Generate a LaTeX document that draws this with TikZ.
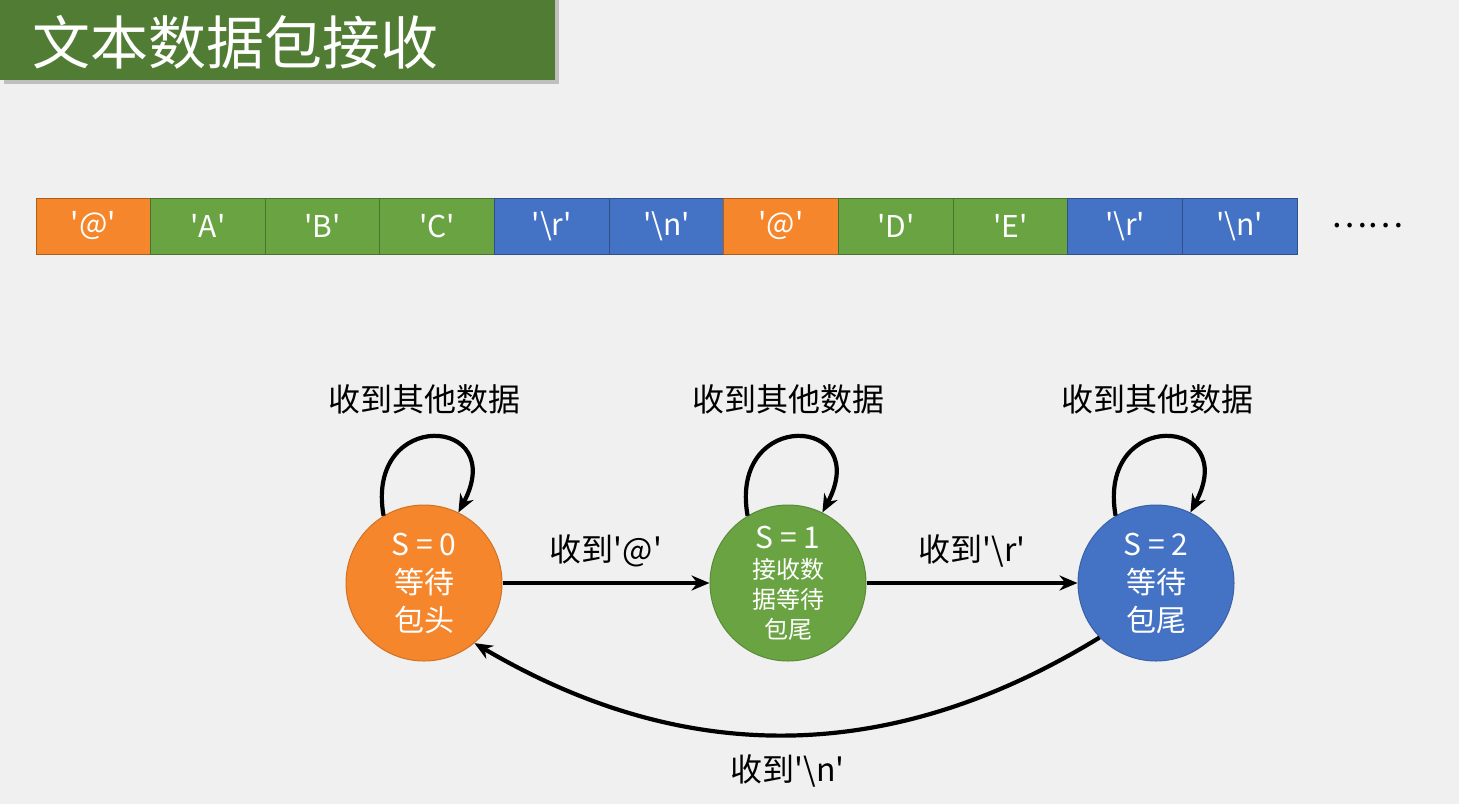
\documentclass[tikz,border=0pt]{standalone}
\usepackage{fontspec}
\setmainfont{Noto Sans CJK SC}
\usetikzlibrary{arrows.meta,positioning}

\definecolor{bg}{HTML}{F0F0F0}
\definecolor{titlegreen}{HTML}{507C34}
\definecolor{pkorange}{HTML}{F5862B}
\definecolor{pkgreen}{HTML}{6AA442}
\definecolor{pkblue}{HTML}{4472C4}

\newcommand{\quoted}[1]{\textquotesingle#1\textquotesingle}

\begin{document}
\begin{tikzpicture}[x=1pt, y=1pt,
  cell/.style={draw, line width=1pt, minimum width=114.6pt, minimum height=56pt, inner sep=0pt, text=white, font=\fontsize{30}{34}\selectfont},
  state/.style={circle, draw, line width=1pt, minimum size=156pt, inner sep=0pt, text=white, align=center, font=\fontsize{30}{38}\selectfont},
  trans/.style={line width=4.2pt, -{Stealth[length=18pt,width=15pt]}},
  lab/.style={font=\fontsize{32}{36}\selectfont, inner sep=2pt}]
  % background and title
  \fill[bg] (0,0) rectangle (1459,-804);
  \useasboundingbox (0,0) rectangle (1459,-804);
  \fill[black!25] (4,0) rectangle (559,-84);
  \fill[titlegreen] (0,0) rectangle (555,-80);
  \node[text=white, font=\fontsize{58}{62}\selectfont, anchor=west, inner sep=0pt] (title) at (32,-42) {文本数据包接收};
  % packet stream
  \foreach \ch/\col [count=\i] in {@/pkorange, A/pkgreen, B/pkgreen, C/pkgreen, {\textbackslash r}/pkblue, {\textbackslash n}/pkblue,
                                   @/pkorange, D/pkgreen, E/pkgreen, {\textbackslash r}/pkblue, {\textbackslash n}/pkblue}
    \node[cell, fill=\col, draw=\col!70!black] (c\i) at ({36+114.64*(\i-0.5)},-226) {\quoted{\ch}};
  \node[font=\fontsize{34}{38}\selectfont, right=30pt of c11] (dots) {……};
  % states
  \node[state, fill=pkorange, draw=pkorange!85!black] (s0) at (424,-583) {S = 0\\等待\\包头};
  \node[state, fill=pkgreen, draw=pkgreen!85!black, font=\fontsize{24}{30}\selectfont] (s1) at (788,-583)
    {{\fontsize{30}{36}\selectfont S = 1}\\接收数\\据等待\\包尾};
  \node[state, fill=pkblue, draw=pkblue!85!black] (s2) at (1156,-583) {S = 2\\等待\\包尾};
  % self loops
  \foreach \s/\x in {s0/424, s1/788, s2/1157} {
    \draw[trans] (\s.121) .. controls +(100:110) and +(62:110) .. (\s.64);
    \node[lab] (l\s) at (\x,-399) {收到其他数据};
  }
  % transitions
  \draw[trans] (s0) -- node[lab, above=12pt] (a01) {收到\quoted{@}} (s1);
  \draw[trans] (s1) -- node[lab, above=12pt] (a12) {收到\quoted{\textbackslash r}} (s2);
  \draw[trans] (s2.224) to[bend left=31] node[lab, below=16pt] (a20) {收到\quoted{\textbackslash n}} (s0.310);
\end{tikzpicture}
\end{document}
